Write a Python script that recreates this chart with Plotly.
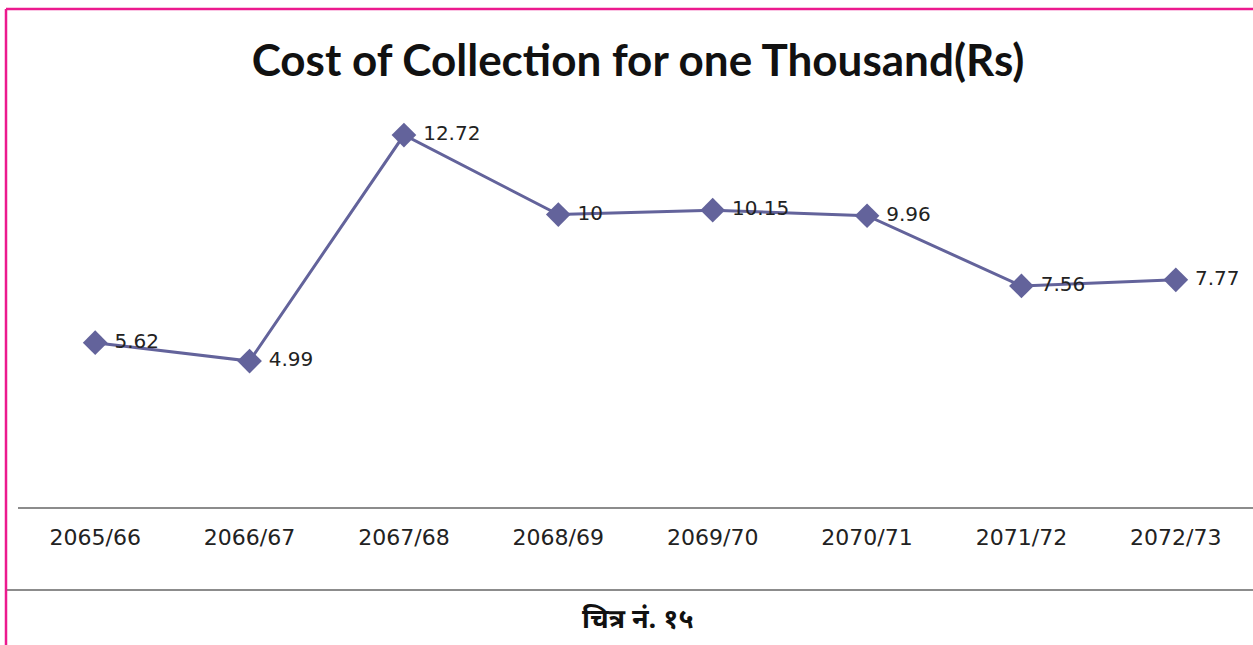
import plotly.graph_objects as go

years = ["2065/66", "2066/67", "2067/68", "2068/69", "2069/70", "2070/71", "2071/72", "2072/73"]
cost = [5.62, 4.99, 12.72, 10, 10.15, 9.96, 7.56, 7.77]
cost_labels = ["5.62", "4.99", "12.72", "10", "10.15", "9.96", "7.56", "7.77"]

W, H = 1253, 645
line_col = "#63639b"
pink = "#ec1a8e"

fig = go.Figure()
fig.add_trace(go.Scatter(
    x=years, y=cost,
    mode="lines+markers+text",
    text=cost_labels,
    texttemplate=" %{text}",
    textposition="middle right",
    textfont=dict(family="DejaVu Sans", size=20, color="#222222"),
    line=dict(color=line_col, width=3),
    marker=dict(symbol="diamond", size=19, color=line_col),
    cliponaxis=False,
    hoverinfo="x+y",
))

fig.update_layout(
    width=W, height=H,
    margin=dict(l=0, r=0, t=0, b=0),
    paper_bgcolor="white", plot_bgcolor="white",
    showlegend=False,
    title=dict(text="Cost of Collection for one Thousand(Rs)",
               x=638 / W, xanchor="center", y=1 - 61 / H, yanchor="middle",
               font=dict(family="Lato", size=44, color="#111111", weight="bold")),
    xaxis=dict(domain=[18 / W, 1], range=[-0.5, 7.5], type="category",
               showgrid=False, zeroline=False,
               showline=True, linecolor="#8c8c8c", linewidth=2,
               ticks="", ticklabelstandoff=10,
               tickfont=dict(family="DejaVu Sans", size=22, color="#222222")),
    yaxis=dict(domain=[1 - 507 / H, 1 - 97.6 / H], range=[0, 14],
               visible=False),
    shapes=[
        dict(type="line", xref="paper", yref="paper",
             x0=7 / W, x1=1, y0=1 - 590 / H, y1=1 - 590 / H,
             line=dict(color="#8c8c8c", width=2)),
        dict(type="line", xref="paper", yref="paper",
             x0=6 / W, x1=1, y0=1 - 9 / H, y1=1 - 9 / H,
             line=dict(color=pink, width=2.5)),
        dict(type="line", xref="paper", yref="paper",
             x0=6 / W, x1=6 / W, y0=0, y1=1 - 9 / H,
             line=dict(color=pink, width=2.5)),
    ],
    annotations=[
        dict(text="<b>चित्र नं. १५</b>", xref="paper", yref="paper",
             x=638 / W, y=1 - 621 / H, xanchor="center", yanchor="middle",
             showarrow=False,
             font=dict(family="Noto Sans Devanagari, Lohit Devanagari, FreeSans, sans-serif",
                       size=27, color="#111111")),
    ],
)

# page body has an 8px margin by default; drop it so the figure fills the window
fig.write_html("out.html", config={"displayModeBar": False},
               post_script="document.body.style.margin='0px';")
